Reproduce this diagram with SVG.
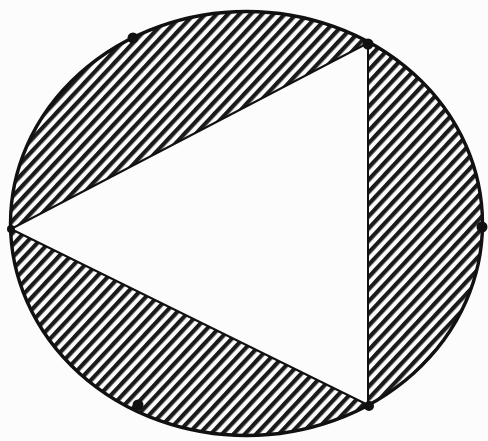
<svg xmlns="http://www.w3.org/2000/svg" width="488" height="441" viewBox="0 0 488 441">
  <style>
    .outline { fill: none; stroke: #111; stroke-width: 3.4; }
    .edge { fill: none; stroke: #111; stroke-width: 2; stroke-linejoin: round; }
    .dot { fill: #111; }
  </style>
  <defs>
    <pattern id="hatch" patternUnits="userSpaceOnUse" width="10" height="8.3" patternTransform="rotate(-47)">
      <rect x="0" y="0" width="10" height="4.2" fill="#1a1a1a"/>
    </pattern>
  </defs>
  <rect width="488" height="441" fill="#fcfcfc"/>
  <g id="disc">
    <ellipse cx="246.5" cy="223.5" rx="236" ry="212" fill="#fcfcfc"/>
    <ellipse cx="246.5" cy="223.5" rx="236" ry="212" fill="url(#hatch)"/>
  </g>
  <g id="triangle">
    <polygon points="11,229 368,43 368,405" fill="#fcfcfc"/>
    <polygon class="edge" points="11,229 368,43 368,405"/>
  </g>
  <g id="circle">
    <ellipse class="outline" cx="246.5" cy="223.5" rx="236" ry="212"/>
  </g>
  <g id="points">
    <circle class="dot" cx="133" cy="38" r="5.5"/>
    <circle class="dot" cx="368" cy="44" r="5.5"/>
    <circle class="dot" cx="11" cy="229" r="4"/>
    <circle class="dot" cx="482" cy="227" r="5.5"/>
    <circle class="dot" cx="138" cy="405" r="5.5"/>
    <circle class="dot" cx="369" cy="406" r="5"/>
  </g>
</svg>
